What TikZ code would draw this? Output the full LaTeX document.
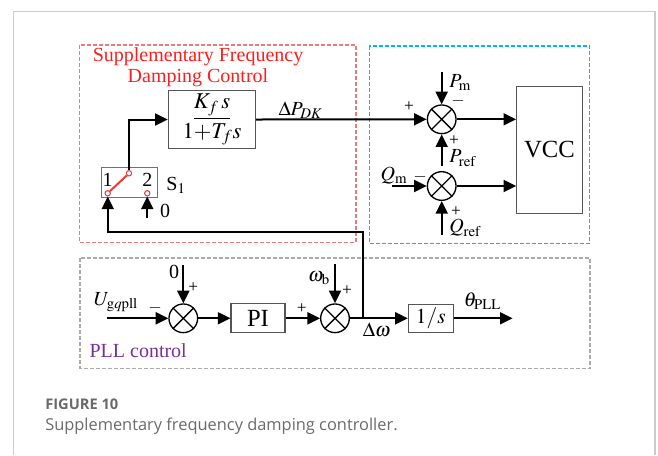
\documentclass[tikz,border=0pt]{standalone}
\usepackage{mathptmx}
\usepackage{fontspec}
\setmainfont{Liberation Serif}
\newfontfamily\capfont{Open Sans}
\usetikzlibrary{arrows.meta}
\definecolor{frameline}{HTML}{CCCCCC}
\definecolor{sfdcline}{HTML}{F07A7A}
\definecolor{sfdctext}{HTML}{FF1E1E}
\definecolor{cyanzone}{HTML}{00B8F2}
\definecolor{pllline}{HTML}{ABABAB}
\definecolor{plltext}{HTML}{7A2E9E}
\definecolor{blkline}{HTML}{555555}
\definecolor{swred}{HTML}{EE3A3A}
\definecolor{capgray}{HTML}{6A6A6A}

\begin{document}
\begin{tikzpicture}[
  x=0.75pt,y=-0.75pt,
  lbl/.style={font=\fontsize{15}{16}\selectfont,inner sep=0pt},
  sgn/.style={font=\fontsize{13}{13}\selectfont,inner sep=0pt},
  blk/.style={draw=blkline,line width=0.8pt,fill=white,inner sep=0pt,align=center},
  sumj/.style={circle,draw,line width=1pt,minimum size=21.5pt,inner sep=0pt},
  sig/.style={line width=1.5pt,-{Triangle[length=9.5pt,width=9pt]}},
  pin/.style={circle,draw=swred,fill=white,line width=0.8pt,minimum size=4pt,inner sep=0pt},
  zone/.style={dash pattern=on 3pt off 1.5pt,line width=1.2pt},
]
\useasboundingbox (0,0) rectangle (658,455);
\draw[frameline,line width=0.8pt] (13.5,455) |- (655,11.5) -- (655,455);

% dashed groups
\draw[zone,sfdcline] (79.3,45) rectangle (355.7,242.3);
\draw[zone,cyanzone] (369.3,45.7) rectangle (589.3,243.3);
\draw[zone,pllline] (80,258) rectangle (590,368.3);

% supplementary frequency damping control
\node[lbl,text=sfdctext,align=center] (sfdcT) at (198,67.5) {Supplementary Frequency\\Damping Control};
\node[blk,minimum width=65.5pt,minimum height=43.2pt,font=\fontsize{17}{22}\selectfont] (filt) at (212,119.5) {\underline{$K_f\,s$}\\$1{+}T_f s$};
\node[draw=swred,line width=0.8pt,minimum width=41.7pt,minimum height=22.5pt,inner sep=0pt] (sw) at (129.5,182.3) {};
\node[lbl] (n1) at (107.7,180) {1};
\node[lbl] (n2) at (147.3,180) {2};
\node[pin] (c1) at (107.7,193.3) {};
\node[pin] (cT) at (129,173.3) {};
\node[pin] (c2) at (147.3,193.3) {};
\draw[swred,line width=1.5pt] (c1) -- (cT);
\node[lbl] (s1lbl) at (176,185) {S$_1$};
\node[lbl] (zero2) at (165,210.5) {0};
\coordinate (c2in) at (147.3,218);
\draw[sig] (c2in) -- (c2);
\draw[sig] (cT) |- (filt.west);
\node[lbl] (dpdk) at (300.5,110) {$\Delta P_{DK}$};

% power loops and VCC
\node[sumj] (sP) at (441.7,119.3) {};
\node[sumj] (sQ) at (441.7,186) {};
\node[sumj] (s2) at (183.3,318.3) {};
\node[sumj] (s3) at (335,318.3) {};
\foreach \s in {sP,sQ,s2,s3}
  \draw[line width=1pt] (\s.north west) -- (\s.south east) (\s.north east) -- (\s.south west);
\node[blk,minimum width=49.2pt,minimum height=95.5pt,font=\fontsize{18.5}{20}\selectfont] (vcc) at (549.5,149.7) {VCC};
\draw[sig] (filt.east) -- (sP.west);
\node[sgn] (pP1) at (409,106.7) {+};
\coordinate (pmIn) at (441.7,71.7);
\draw[sig] (pmIn) -- (sP.north);
\node[lbl,anchor=west] (pm) at (449,83) {$P_{\mathrm{m}}$};
\node[sgn] (mP) at (458,101.5) {$-$};
\coordinate (prefIn) at (441.7,166);
\draw[sig] (prefIn) -- (sP.south);
\node[sgn] (pP2) at (454,141) {+};
\node[lbl,anchor=west] (pref) at (449,158) {$P_{\mathrm{ref}}$};
\coordinate (qmIn) at (391.7,186);
\draw[sig] (qmIn) -- (sQ.west);
\node[lbl] (qm) at (394,176) {$Q_{\mathrm{m}}$};
\node[sgn] (mQ) at (420,177) {$-$};
\coordinate (qrefIn) at (441.7,235);
\draw[sig] (qrefIn) -- (sQ.south);
\node[sgn] (pQ) at (456,211.7) {+};
\node[lbl,anchor=west] (qref) at (449,228) {$Q_{\mathrm{ref}}$};
\draw[sig] (sP.east) -- (sP -| vcc.west);
\draw[sig] (sQ.east) -- (sQ -| vcc.west);

% PLL control
\coordinate (uIn) at (106.7,318.3);
\draw[sig] (uIn) -- (s2.west);
\node[lbl] (ugq) at (116,302) {$U_{\mathrm{g}q\mathrm{pll}}$};
\node[sgn] (mU) at (155,308.3) {$-$};
\coordinate (zIn) at (183.3,265);
\draw[sig] (zIn) -- (s2.north);
\node[lbl] (zero1) at (174,271.7) {0};
\node[sgn] (p21) at (193.3,287.7) {+};
\node[blk,minimum width=40.5pt,minimum height=21.8pt,font=\fontsize{18.5}{20}\selectfont] (pi) at (258,318.3) {PI};
\draw[sig] (s2.east) -- (pi.west);
\draw[sig] (pi.east) -- (s3.west);
\node[sgn] (p31) at (301.7,308.3) {+};
\coordinate (wbIn) at (335,264.3);
\draw[sig] (wbIn) -- (s3.north);
\node[lbl] (wb) at (319,278.5) {$\omega_{\mathrm{b}}$};
\node[sgn] (p32) at (347,291) {+};
\node[blk,minimum width=33.75pt,minimum height=21pt,font=\fontsize{16}{18}\selectfont] (integ) at (430.8,318.3) {$1/s$};
\draw[sig] (s3.east) -- (integ.west);
\node[lbl] (dw) at (376.7,330) {$\Delta\omega$};
\coordinate (thOut) at (512.7,318.3);
\draw[sig] (integ.east) -- (thOut);
\node[lbl] (th) at (482.5,300.8) {$\theta_{\mathrm{PLL}}$};
\coordinate (tap) at (362.7,318.3);
\coordinate (fbc) at (107.7,231.7);
\draw[sig] (tap) |- (fbc) -- (c1);
\node[lbl,text=plltext,anchor=base west] (pllT) at (89.3,357.7) {PLL control};

% caption
\node[anchor=base west,text=capgray,inner sep=0pt,font=\capfont\bfseries\fontsize{11}{13}\selectfont] (figno) at (45,409) {FIGURE 10};
\node[anchor=base west,text=capgray,inner sep=0pt,font=\capfont\fontsize{12.3}{14}\selectfont] (figcap) at (45,430) {Supplementary frequency damping controller.};
\end{tikzpicture}
\end{document}
